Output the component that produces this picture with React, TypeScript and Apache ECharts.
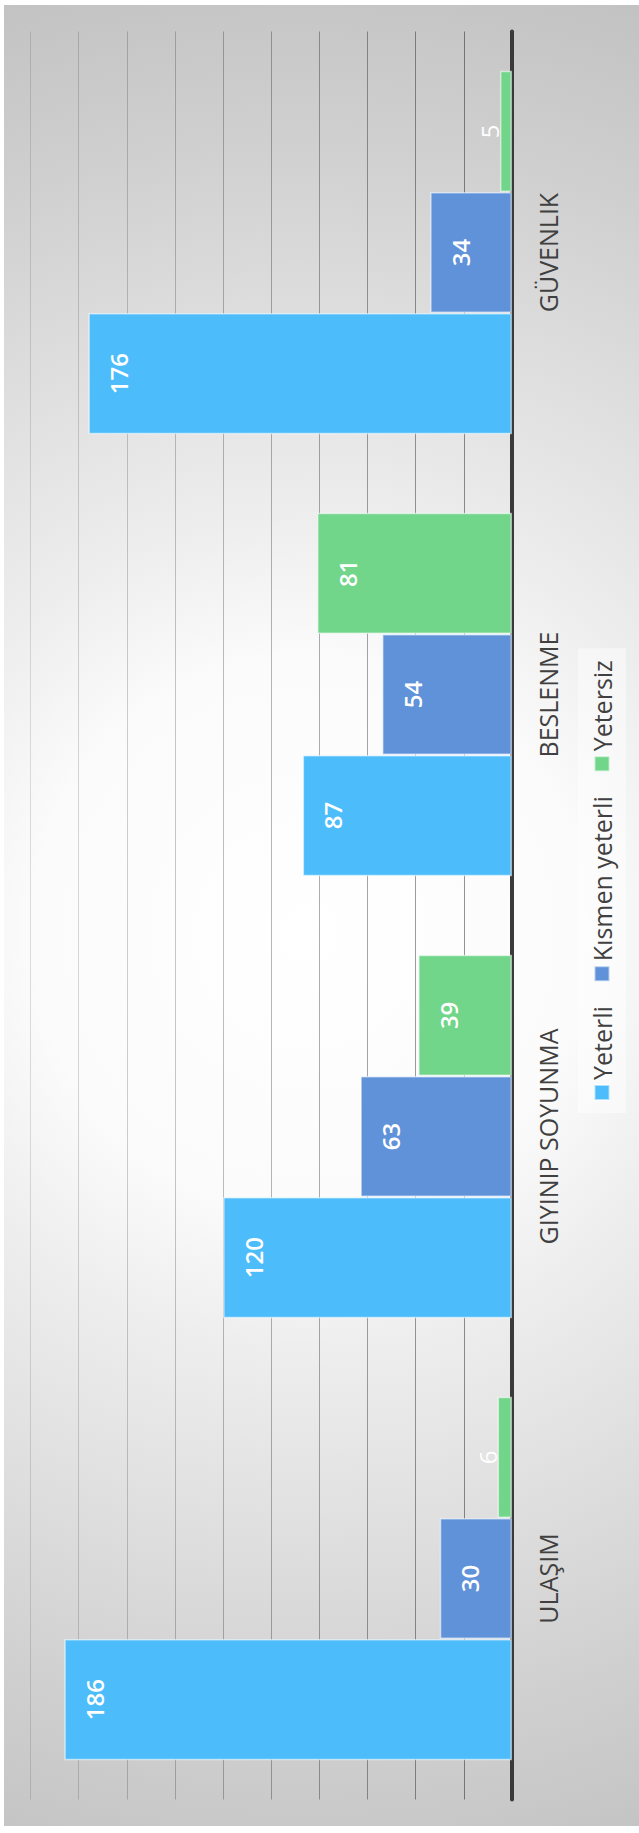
import React, { useEffect, useRef } from "react";
import * as echarts from "echarts";

const categories = ["ULAŞIM", "GIYINIP SOYUNMA", "BESLENME", "GÜVENLIK"];
const seriesNames = ["Yeterli", "Kısmen yeterli", "Yetersiz"];
const yeterli = [186, 120, 87, 176];
const kismen = [30, 63, 54, 34];
const yetersiz = [6, 39, 81, 5];
const seriesColors = ["#4cbcfa", "#5f92d9", "#71d58a"];
const valueMax = 200;
const valueInterval = 20;

const W = 639;
const H = 1833;

function buildData(values: number[]) {
  return values.map((v) => {
    const small = v < 15;
    return {
      value: v,
      label: small
        ? { position: "top", distance: -2, fontWeight: "normal" }
        : { position: "insideTop", distance: 18, fontWeight: 600 },
    };
  });
}

export default function App() {
  const ref = useRef<HTMLDivElement>(null);
  useEffect(() => {
    if (!ref.current) return;
    const chart = echarts.init(ref.current, undefined, { renderer: "svg" });
    const gridColors: string[] = [];
    for (let i = 0; i <= valueMax / valueInterval; i++) {
      const a = i === 0 ? 0.45 : 0.42 - ((i - 1) * 0.3) / 9;
      gridColors.push(`rgba(0,0,0,${a.toFixed(3)})`);
    }
    const all = [yeterli, kismen, yetersiz];
    chart.setOption({
      animation: false,
      backgroundColor: "transparent",
      textStyle: { fontFamily: "Open Sans" },
      grid: { left: 33.5, right: 31.5, top: 30.6, bottom: 127, containLabel: false },
      legend: {
        data: seriesNames,
        left: 720,
        top: 578,
        orient: "horizontal",
        padding: [11.5, 12],
        itemWidth: 15,
        itemHeight: 15,
        itemGap: 24,
        backgroundColor: "rgba(255,255,255,0.45)",
        icon: "rect",
        textStyle: { fontSize: 25, color: "#404040", fontFamily: "Open Sans" },
      },
      xAxis: {
        type: "category",
        data: categories,
        axisLine: { show: true, lineStyle: { color: "#3a3a3a", width: 4 } },
        axisTick: { show: false },
        axisLabel: {
          margin: 23,
          fontSize: 25,
          color: "#404040",
          fontFamily: "Open Sans",
        },
        splitLine: { show: false },
      },
      yAxis: {
        type: "value",
        min: 0,
        max: valueMax,
        interval: valueInterval,
        axisLabel: { show: false },
        axisLine: { show: false },
        axisTick: { show: false },
        splitLine: { show: true, lineStyle: { color: gridColors, width: 1 } },
      },
      series: all.map((vals, i) => ({
        type: "bar",
        name: seriesNames[i],
        data: buildData(vals),
        barGap: "0%",
        barCategoryGap: "17.8%",
        itemStyle: {
          color: seriesColors[i],
          borderColor: "rgba(255,255,255,0.55)",
          borderWidth: 1.5,
        },
        label: {
          show: true,
          color: "#ffffff",
          fontSize: 24,
          fontFamily: "Open Sans",
        },
      })),
    });
    return () => chart.dispose();
  }, []);

  return (
    <div
      style={{
        position: "absolute",
        left: 0,
        top: 0,
        width: W,
        height: H,
        overflow: "hidden",
        background: "#ffffff",
      }}
    >
      <div
        style={{
          position: "absolute",
          left: 4,
          top: 5,
          width: W - 4,
          height: 1821,
          background:
            "radial-gradient(circle farthest-corner at 48% 51%, #ffffff 0%, #fbfbfb 28%, #eeeeee 42%, #e0e0e0 60%, #d0d0d0 80%, #c2c2c2 100%)",
        }}
      />
      <div
        ref={ref}
        style={{
          position: "absolute",
          left: 0,
          top: 0,
          width: H,
          height: W,
          transformOrigin: "0 0",
          transform: `translateY(${H}px) rotate(-90deg)`,
        }}
      />
    </div>
  );
}
